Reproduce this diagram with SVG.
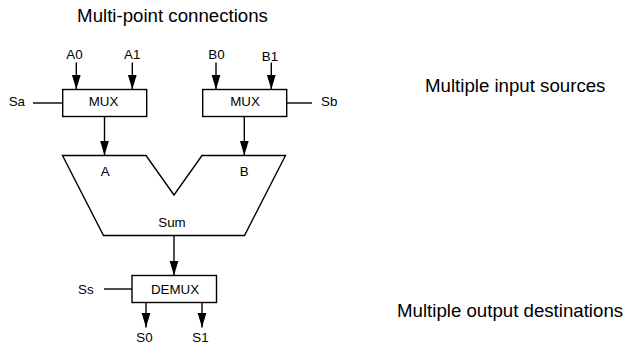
<svg xmlns="http://www.w3.org/2000/svg" width="627" height="345" viewBox="0 0 627 345">
  <style>
    .big { font-family: "Liberation Sans", Arial, sans-serif; font-size: 18.67px; fill: #000; }
    .lbl { font-family: "Liberation Sans", Arial, sans-serif; font-size: 13.33px; fill: #000; }
    .mid { text-anchor: middle; }
    .end { text-anchor: end; }
    .box { fill: #fff; stroke: #000; stroke-width: 1.4; }
    .wire { fill: none; stroke: #000; stroke-width: 1.4; }
    .arrow { fill: none; stroke: #000; stroke-width: 1.4; marker-end: url(#head); }
  </style>
  <defs>
    <marker id="head" markerUnits="userSpaceOnUse" markerWidth="16" markerHeight="10" refX="15" refY="4.5" orient="auto">
      <path d="M0,0 L15,4.5 L0,9 Z" fill="#000"/>
    </marker>
  </defs>

  <rect width="627" height="345" fill="#fff"/>

  <!-- captions -->
  <text class="big mid" x="172.5" y="22">Multi-point connections</text>
  <text class="big" x="425" y="92">Multiple input sources</text>
  <text class="big" x="397" y="317">Multiple output destinations</text>

  <!-- connectors -->
  <g id="connectors">
    <line class="arrow" x1="76.3" y1="62.5" x2="76.3" y2="89.5"/>
    <line class="arrow" x1="132.3" y1="62.5" x2="132.3" y2="89.5"/>
    <line class="arrow" x1="216" y1="62.5" x2="216" y2="89.5"/>
    <line class="arrow" x1="271.3" y1="62.5" x2="271.3" y2="89.5"/>
    <line class="wire" x1="33" y1="103" x2="62.7" y2="103"/>
    <line class="wire" x1="286.7" y1="103" x2="312" y2="103"/>
    <line class="arrow" x1="104.5" y1="116.5" x2="104.5" y2="155.5"/>
    <line class="arrow" x1="244.3" y1="116.5" x2="244.3" y2="155.5"/>
    <line class="arrow" x1="174" y1="235.5" x2="174" y2="275.5"/>
    <line class="wire" x1="104" y1="289" x2="132" y2="289"/>
    <line class="arrow" x1="146" y1="302.5" x2="146" y2="327.5"/>
    <line class="arrow" x1="202" y1="302.5" x2="202" y2="327.5"/>
  </g>

  <!-- input labels -->
  <text class="lbl mid" x="74.5" y="59.3">A0</text>
  <text class="lbl mid" x="132.2" y="59.3">A1</text>
  <text class="lbl mid" x="216.5" y="59.3">B0</text>
  <text class="lbl mid" x="270" y="61">B1</text>
  <text class="lbl end" x="25" y="106.3">Sa</text>
  <text class="lbl" x="321" y="106.3">Sb</text>
  <text class="lbl end" x="93.6" y="293.5">Ss</text>
  <text class="lbl mid" x="144.5" y="341.7">S0</text>
  <text class="lbl mid" x="200.5" y="341.7">S1</text>

  <g id="mux-a">
    <rect class="box" x="62.7" y="89.5" width="84" height="27"/>
    <text class="lbl mid" x="103.5" y="106.3">MUX</text>
  </g>

  <g id="mux-b">
    <rect class="box" x="202.7" y="89.5" width="84" height="27"/>
    <text class="lbl mid" x="245" y="106.3">MUX</text>
  </g>

  <g id="adder">
    <polygon class="box" points="62.5,155.5 146,155.5 174,195 202,155.5 285.5,155.5 244.5,235.5 103.5,235.5"/>
    <text class="lbl mid" x="105.3" y="175.5">A</text>
    <text class="lbl mid" x="244.2" y="175.5">B</text>
    <text class="lbl mid" x="172" y="226.7">Sum</text>
  </g>

  <g id="demux">
    <rect class="box" x="132" y="275.5" width="84.5" height="27"/>
    <text class="lbl mid" x="175" y="293.5">DEMUX</text>
  </g>
</svg>
